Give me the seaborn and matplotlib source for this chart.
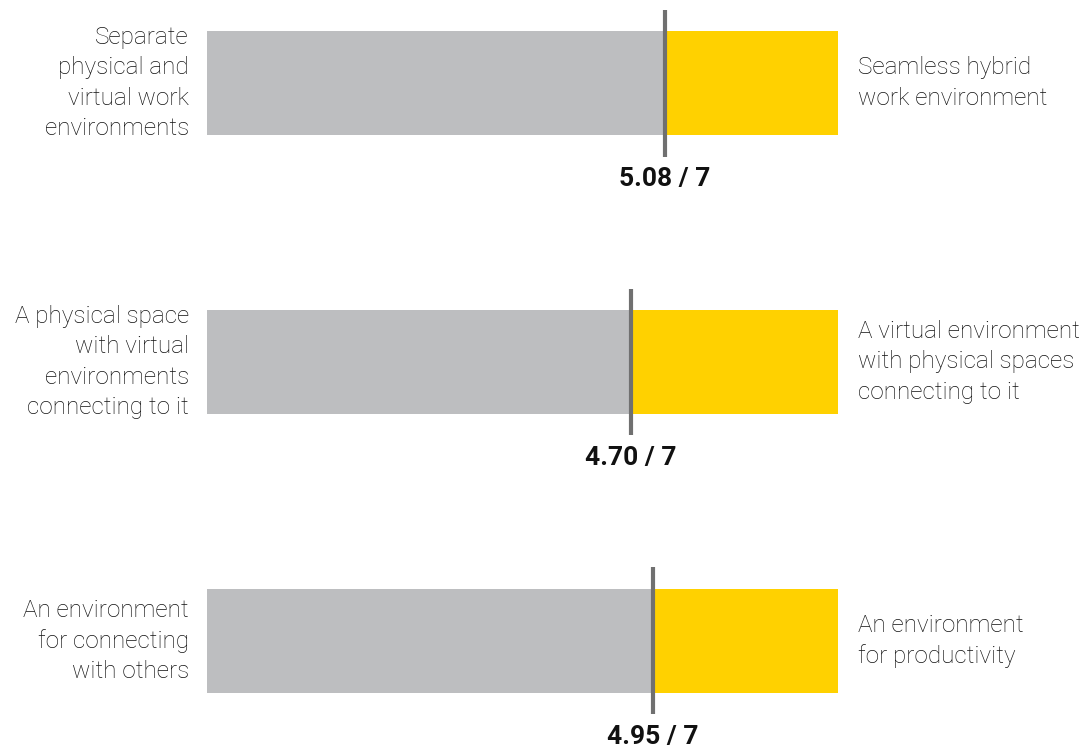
import matplotlib
matplotlib.use("Agg")
import matplotlib.pyplot as plt
import seaborn as sns
import pandas as pd

# Data
left_labels = ["Separate\nphysical and\nvirtual work\nenvironments",
               "A physical space\nwith virtual\nenvironments\nconnecting to it",
               "An environment\nfor connecting\nwith others"]
right_labels = ["Seamless hybrid\nwork environment",
                "A virtual environment\nwith physical spaces\nconnecting to it",
                "An environment\nfor productivity"]
scores = [5.08, 4.70, 4.95]
scale_max = 7
categories = ["row1", "row2", "row3"]

GRAY = "#BDBEC0"
YELLOW = "#FFD100"
MARK = "#707070"
TEXT = "#111111"

sns.set_theme(style="white")
plt.rcParams['font.family'] = ['Roboto', 'DejaVu Sans']

fig = plt.figure(figsize=(10.91, 7.5), dpi=100)
ax = fig.add_axes([207/1091, 0, 631/1091, 1])

df = pd.DataFrame({"cat": categories, "score": scores,
                   "full": [scale_max]*len(categories)})

bar_w = 104/279
sns.barplot(data=df, x="full", y="cat", orient="h", color=YELLOW,
            width=bar_w, ax=ax, saturation=1, linewidth=0)
sns.barplot(data=df, x="score", y="cat", orient="h", color=GRAY,
            width=bar_w, ax=ax, saturation=1, linewidth=0)

half = 73.5/279
for i, (s, ll, rl) in enumerate(zip(scores, left_labels, right_labels)):
    ax.plot([s, s], [i - half, i + half], color=MARK, lw=3, solid_capstyle="butt", zorder=5)
    ax.text(s, i + 0.345, f"{s:.2f} / {scale_max}", ha="center", va="center",
            fontsize=19, fontweight="bold", color=TEXT)
    ax.annotate(ll, xy=(0, i), xytext=(-13, 0), textcoords="offset points",
                ha="right", va="center", fontsize=17.5, fontweight="light",
                color=TEXT, linespacing=1.4, multialignment="right")
    ax.annotate(rl, xy=(scale_max, i), xytext=(14.5, 0), textcoords="offset points",
                ha="left", va="center", fontsize=17.5, fontweight="light",
                color=TEXT, linespacing=1.4, multialignment="left")

ax.set_xlim(0, scale_max)
ax.set_ylim(2 + 109/279, -83/279)
ax.set_axis_off()

fig.savefig("out.png", dpi=100)
